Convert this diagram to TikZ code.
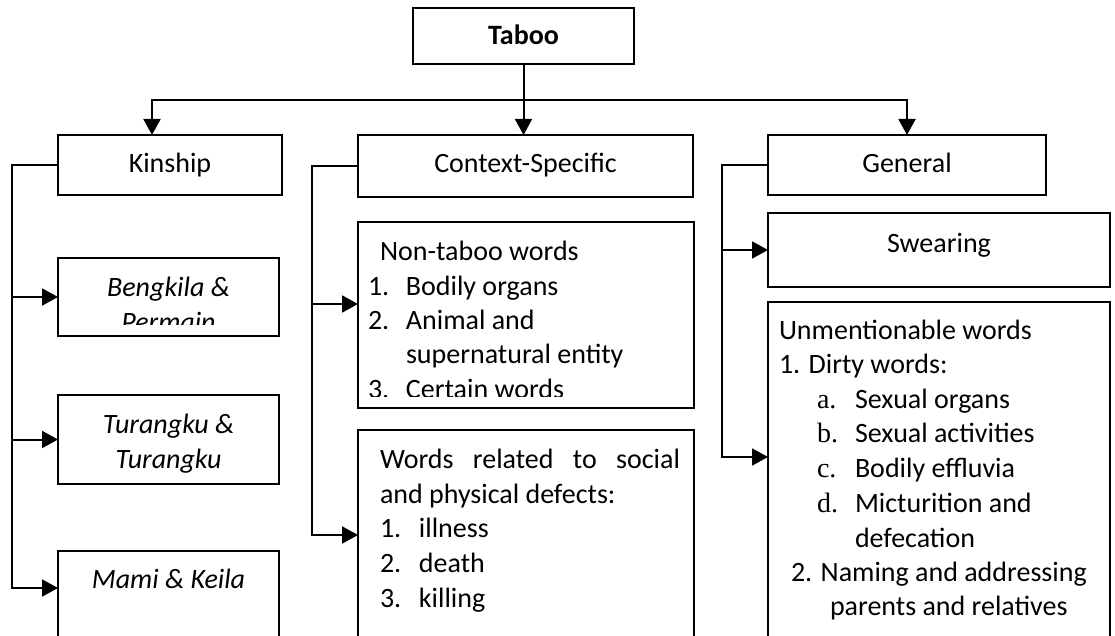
\documentclass[tikz,border=0pt]{standalone}
\usepackage{fontspec}
\setmainfont{Carlito}
\newfontfamily\lserif{Liberation Serif}
\usetikzlibrary{arrows.meta,calc}
\newcommand\bigfs{\fontsize{28}{34}\selectfont}
\begin{document}
\begin{tikzpicture}[x=1pt,y=-1pt,
  box/.style={draw=black,line width=2pt,rectangle,inner sep=0pt,outer sep=0pt,anchor=north west},
  conn/.style={line width=2pt,line join=miter},
  arr/.style={conn,-{Triangle[length=16pt,width=17pt]}},
  darr/.style={conn,{Triangle[length=16pt,width=17pt]}-{Triangle[length=16pt,width=17pt]}},
  txt/.style={inner sep=0pt,outer sep=0pt,font=\bigfs},
  txtc/.style={txt,anchor=base},
  txtl/.style={txt,anchor=base west},
]
\useasboundingbox (0,0) rectangle (1115,636);
\clip (0,0) rectangle (1115,636);

% boxes
\node[box,minimum width=221pt,minimum height=56pt] (taboo) at (413,8) {};
\node[box,minimum width=224pt,minimum height=60pt] (kin) at (58,135) {};
\node[box,minimum width=335pt,minimum height=62pt] (cs) at (358,135) {};
\node[box,minimum width=278pt,minimum height=60pt] (gen) at (768,135) {};
\node[box,minimum width=221pt,minimum height=78pt] (beng) at (58,258) {};
\node[box,minimum width=221pt,minimum height=89pt] (turk) at (58,395) {};
\node[box,minimum width=221pt,minimum height=120pt] (mami) at (58,551) {};
\node[box,minimum width=336pt,minimum height=186pt] (nt) at (358,222) {};
\node[box,minimum width=336pt,minimum height=240pt] (wr) at (358,430) {};
\node[box,minimum width=342pt,minimum height=74pt] (sw) at (768,213) {};
\node[box,minimum width=342pt,minimum height=360pt] (um) at (768,302) {};

% top connectors
\coordinate (busL) at (152,100);
\coordinate (busR) at (gen.north |- busL);
\draw[arr] (taboo.south) -- (taboo.south |- cs.north);
\draw[darr] (busL |- kin.north) -- (busL) -- (busR) -- (gen.north);

% kinship
\coordinate (kx) at (12,0);
\coordinate (mamiA) at ($(mami.north west)+(0,37)$);
\draw[arr] (kin.west) -- (kin.west -| kx) -- (mamiA -| kx) -- (mamiA);
\draw[arr] (beng.west -| kx) -- (beng.west);
\draw[arr] (turk.west -| kx) -- (turk.west);

% context-specific
\coordinate (cx) at (312,0);
\coordinate (ntA) at ($(nt.north west)+(0,82)$);
\coordinate (wrA) at ($(wr.north west)+(0,105)$);
\draw[arr] (cs.west) -- (cs.west -| cx) -- (wrA -| cx) -- (wrA);
\draw[arr] (ntA -| cx) -- (ntA);

% general
\coordinate (gx) at (722,0);
\coordinate (umA) at ($(um.north west)+(0,155)$);
\draw[arr] (gen.west) -- (gen.west -| gx) -- (umA -| gx) -- (umA);
\draw[arr] (sw.west -| gx) -- (sw.west);

% texts
\node[txtc,font=\bigfs\bfseries] (tTaboo) at (523.5,45) {Taboo};
\node[txtc] (tKin) at (170,173) {Kinship};
\node[txtc] (tCS) at (525.5,173) {Context-Specific};
\node[txtc] (tGen) at (907,173) {General};

\node[txtc,font=\bigfs\itshape] (tBengA) at (168.5,296) {Bengkila \&};
\begin{scope}
  \clip (58,258) rectangle (279,324);
  \node[txtc,font=\bigfs\itshape] (tBengB) at (168.5,331) {Permain};
\end{scope}
\node[txtc,font=\bigfs\itshape] (tTurA) at (168.5,433) {Turangku \&};
\node[txtc,font=\bigfs\itshape] (tTurB) at (168.5,468) {Turangku};
\node[txtc,font=\bigfs\itshape] (tMami) at (168.5,588) {Mami \& Keila};

\node[txtl] (n0) at (380,260) {Non-taboo words};
\node[txtl] (n1) at (368,295) {\makebox[38pt][l]{1.}Bodily organs};
\node[txtl] (n2) at (368,329) {\makebox[38pt][l]{2.}Animal and};
\node[txtl] (n3) at (406,363) {supernatural entity};
\begin{scope}
  \clip (358,222) rectangle (694,396);
  \node[txtl] (n4) at (368,398) {\makebox[38pt][l]{3.}Certain words};
\end{scope}

\node[txtl] (w0) at (380,468) {\makebox[300pt][s]{Words related to social}};
\node[txtl] (w1) at (380,503) {and physical defects:};
\node[txtl] (w2) at (380,537) {\makebox[39pt][l]{1.}illness};
\node[txtl] (w3) at (380,572) {\makebox[39pt][l]{2.}death};
\node[txtl] (w4) at (380,607) {\makebox[39pt][l]{3.}killing};

\node[txtc] (tSw) at (939,252) {Swearing};

\node[txtl] (u0) at (779,339) {Unmentionable words};
\node[txtl] (u1) at (779,373) {1. Dirty words:};
\node[txtl] (u2) at (817,408) {\makebox[38pt][l]{\lserif a.}Sexual organs};
\node[txtl] (u3) at (817,442) {\makebox[38pt][l]{\lserif b.}Sexual activities};
\node[txtl] (u4) at (817,477) {\makebox[38pt][l]{\lserif c.}Bodily effluvia};
\node[txtl] (u5) at (817,512) {\makebox[38pt][l]{\lserif d.}Micturition and};
\node[txtl] (u6) at (855,547) {defecation};
\node[txtl] (u7) at (791,581) {2. Naming and addressing};
\node[txtl] (u8) at (830,615) {parents and relatives};
\end{tikzpicture}
\end{document}
